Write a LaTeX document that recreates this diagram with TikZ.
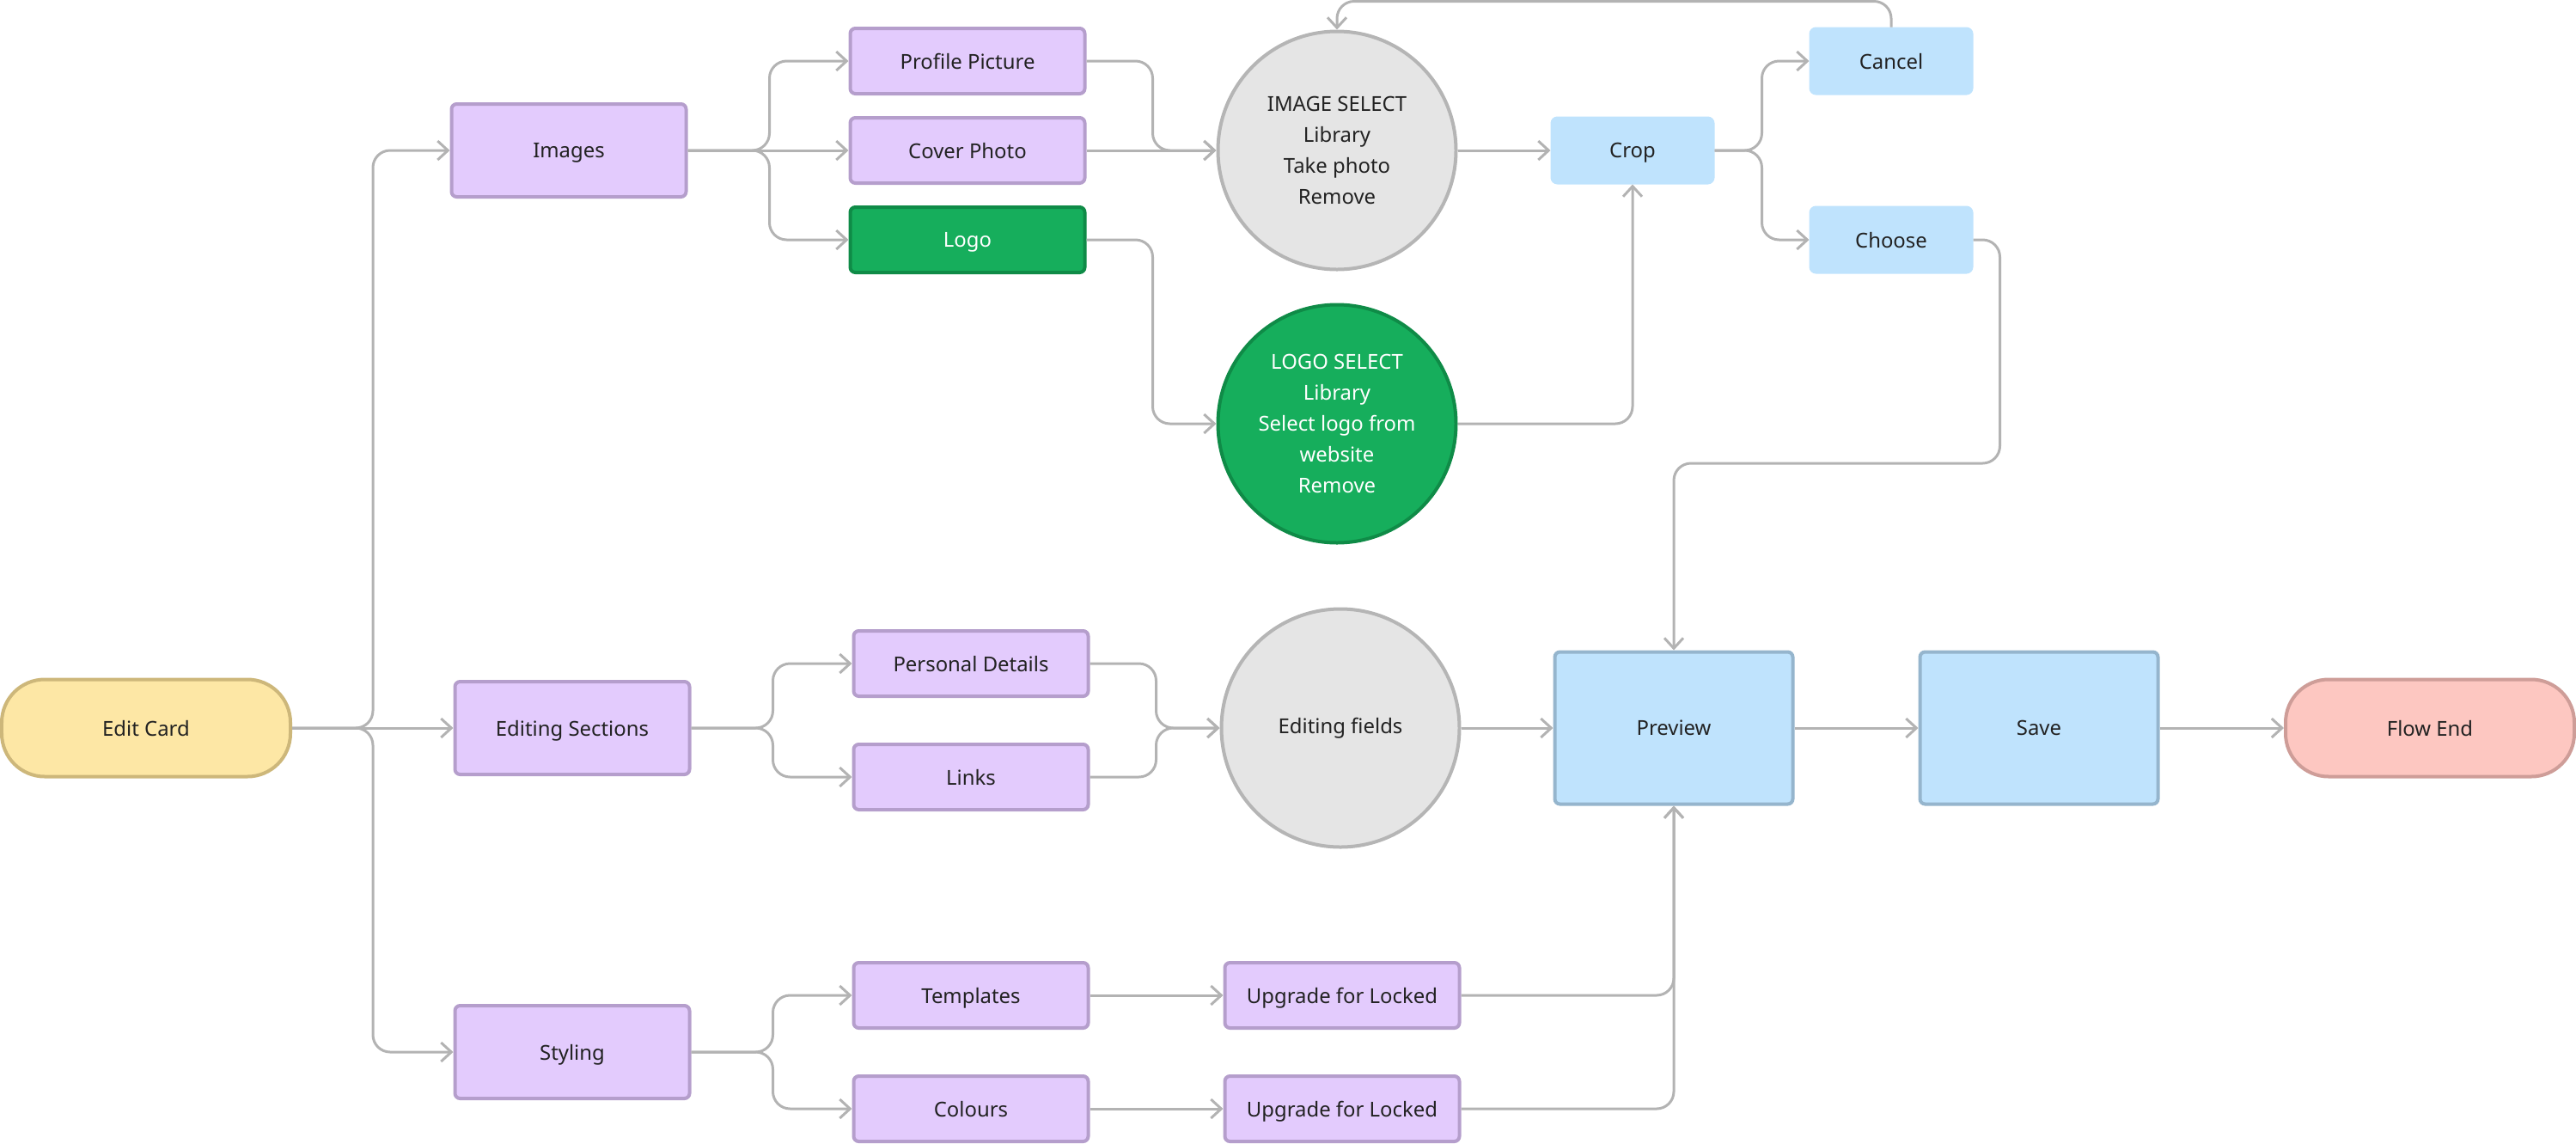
\documentclass[tikz,border=0pt]{standalone}
\usepackage{fontspec}
\setmainfont{Noto Sans}
\usepackage{xcolor}
\usetikzlibrary{arrows.meta}

\definecolor{lilac}{HTML}{E3CBFD}
\definecolor{lilacline}{HTML}{B59ECC}
\definecolor{leaf}{HTML}{16AE5C}
\definecolor{leafline}{HTML}{0F8B47}
\definecolor{mist}{HTML}{E5E5E5}
\definecolor{mistline}{HTML}{B5B5B5}
\definecolor{sky}{HTML}{BFE3FD}
\definecolor{skyline}{HTML}{95B5CD}
\definecolor{butter}{HTML}{FDE7A5}
\definecolor{butterline}{HTML}{CDB77A}
\definecolor{blush}{HTML}{FDC7C1}
\definecolor{blushline}{HTML}{CE9D98}
\definecolor{ink}{HTML}{222222}
\definecolor{wire}{HTML}{B3B3B3}

\tikzset{
  box/.style={rectangle, rounded corners=0.06cm, line width=0.04cm, text=ink, inner sep=0pt, text depth=0pt},
  purplebox/.style={box, fill=lilac, draw=lilacline, minimum width=2.73cm, minimum height=0.76cm},
  bigpurple/.style={purplebox, minimum height=1.08cm},
  greenbox/.style={purplebox, fill=leaf, draw=leafline, text=white},
  bluebox/.style={box, fill=sky, draw=sky, minimum width=1.87cm, minimum height=0.75cm},
  bigblue/.style={box, fill=sky, draw=skyline, minimum width=2.77cm, minimum height=1.77cm},
  pill/.style={box, rounded corners=0.5cm, minimum width=3.36cm, minimum height=1.13cm},
  bubble/.style={circle, line width=0.04cm, fill=mist, draw=mistline, text=ink, minimum size=2.77cm, inner sep=0pt, align=center},
  conn/.style={draw=wire, line width=0.03cm, rounded corners=0.2cm, -{Straight Barb[length=0.12cm, width=0.22cm]}}
}

\begin{document}
\begin{tikzpicture}[font=\fontsize{6.8}{10.2}\selectfont]
\useasboundingbox (0,0) rectangle (29.98,-13.30);

\node[pill, fill=butter, draw=butterline] (edit) at (1.70,-8.47) {Edit Card};

\node[bigpurple] (images) at (6.62,-1.75) {Images};
\node[bigpurple] (editsec) at (6.66,-8.47) {Editing Sections};
\node[bigpurple] (styling) at (6.66,-12.24) {Styling};

\node[purplebox] (profile) at (11.26,-0.71) {Profile Picture};
\node[purplebox] (cover) at (11.26,-1.75) {Cover Photo};
\node[greenbox] (logo) at (11.26,-2.79) {Logo};

\node[bubble] (imgsel) at (15.56,-1.75) {IMAGE SELECT\\Library\\Take photo\\Remove};
\node[bubble, fill=leaf, draw=leafline, text=white] (logosel) at (15.56,-4.93) {LOGO SELECT\\Library\\Select logo from\\website\\Remove};

\node[bluebox] (crop) at (19.00,-1.75) {Crop};
\node[bluebox] (cancel) at (22.01,-0.71) {Cancel};
\node[bluebox] (choose) at (22.01,-2.79) {Choose};

\node[purplebox] (personal) at (11.30,-7.72) {Personal Details};
\node[purplebox] (links) at (11.30,-9.04) {Links};
\node[bubble] (fields) at (15.60,-8.47) {Editing fields};

\node[purplebox] (templates) at (11.30,-11.58) {Templates};
\node[purplebox] (colours) at (11.30,-12.90) {Colours};
\node[purplebox] (upgradeA) at (15.62,-11.58) {Upgrade for Locked};
\node[purplebox] (upgradeB) at (15.62,-12.90) {Upgrade for Locked};

\node[bigblue] (preview) at (19.48,-8.47) {Preview};
\node[bigblue] (save) at (23.73,-8.47) {Save};
\node[pill, fill=blush, draw=blushline] (flowend) at (28.28,-8.47) {Flow End};

\coordinate (back) at (19.48,-5.39);

\draw[conn] (edit.east) -- ++(0.94,0) |- (images.west);
\draw[conn] (edit.east) -- (editsec.west);
\draw[conn] (edit.east) -- ++(0.94,0) |- (styling.west);

\draw[conn] (images.east) -- ++(0.95,0) |- (profile.west);
\draw[conn] (images.east) -- (cover.west);
\draw[conn] (images.east) -- ++(0.95,0) |- (logo.west);

\draw[conn] (profile.east) -- ++(0.77,0) |- (imgsel.west);
\draw[conn] (cover.east) -- (imgsel.west);
\draw[conn] (logo.east) -- ++(0.77,0) |- (logosel.west);

\draw[conn] (imgsel.east) -- (crop.west);
\draw[conn] (logosel.east) -| (crop.south);

\draw[conn] (crop.east) -- ++(0.55,0) |- (cancel.west);
\draw[conn] (crop.east) -- ++(0.55,0) |- (choose.west);
\draw[conn] (cancel.north) -- ++(0,0.30) -| (imgsel.north);
\draw[conn] (choose.east) -- ++(0.31,0) |- (back) -- (preview.north);

\draw[conn] (editsec.east) -- ++(0.95,0) |- (personal.west);
\draw[conn] (editsec.east) -- ++(0.95,0) |- (links.west);
\draw[conn] (personal.east) -- ++(0.77,0) |- (fields.west);
\draw[conn] (links.east) -- ++(0.77,0) |- (fields.west);
\draw[conn] (fields.east) -- (preview.west);

\draw[conn] (styling.east) -- ++(0.95,0) |- (templates.west);
\draw[conn] (styling.east) -- ++(0.95,0) |- (colours.west);
\draw[conn] (templates.east) -- (upgradeA.west);
\draw[conn] (colours.east) -- (upgradeB.west);
\draw[conn] (upgradeA.east) -| (preview.south);
\draw[conn] (upgradeB.east) -| (preview.south);

\draw[conn] (preview.east) -- (save.west);
\draw[conn] (save.east) -- (flowend.west);
\end{tikzpicture}
\end{document}
